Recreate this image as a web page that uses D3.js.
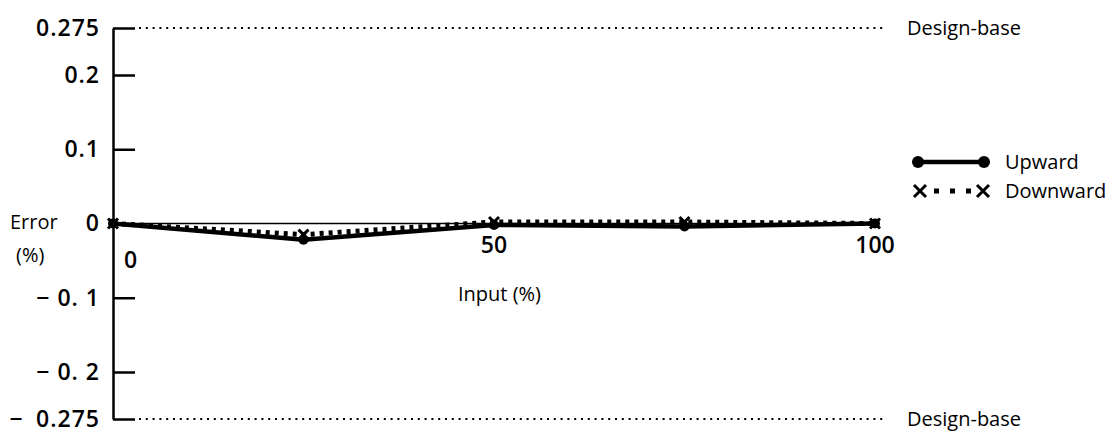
<!DOCTYPE html>
<html>
<head>
<meta charset="utf-8">
<script src="https://cdn.jsdelivr.net/npm/d3@7"></script>
<style>
  body { margin: 0; background: #fff; }
  svg { display: block; font-family: "Open Sans", "DejaVu Sans", sans-serif; }
</style>
</head>
<body>
<script>
// data
let inputPct = [0, 25, 50, 75, 100]
let upward = [0, -0.022, -0.002, -0.004, 0]
let downward = [0, -0.015, 0.002, 0.002, 0]
let yTicks = [0.275, 0.2, 0.1, 0, -0.1, -0.2, -0.275]
let yTickLabels = ['0.275', '0.2', '0.1', '0', '− 0. 1', '− 0. 2', '−\u20020.275']
let xTicks = [0, 50, 100]
let xTickLabels = ['0', '50', '100']
let designBase = [0.275, -0.275]
let seriesNames = ['Upward', 'Downward']

let W = 1117, H = 434

let x = d3.scaleLinear().domain([0, 100]).range([113, 875])
// axis is drawn compressed beyond ±0.2
let y = d3.scaleLinear()
  .domain([-0.275, -0.2, 0.2, 0.275])
  .range([419, 372, 75, 28])

let svg = d3.select('body').append('svg')
  .attr('width', W).attr('height', H)

// design-base dotted lines
svg.selectAll('.db').data(designBase).enter().append('line')
  .attr('x1', x(0) + 26).attr('x2', 883)
  .attr('y1', d => y(d)).attr('y2', d => y(d))
  .attr('stroke', '#000').attr('stroke-width', 2)
  .attr('stroke-dasharray', '2 4.8')
svg.selectAll('.dbt').data(designBase).enter().append('text')
  .attr('x', 907).attr('y', d => y(d)).attr('dy', '0.35em')
  .attr('font-size', 20).attr('font-weight', 500)
  .text('Design-base')

// zero reference line
svg.append('line')
  .attr('x1', x(0)).attr('x2', x(100))
  .attr('y1', y(0)).attr('y2', y(0))
  .attr('stroke', '#000').attr('stroke-width', 1.5)

// y axis
let yAxis = d3.axisLeft(y)
  .tickValues(yTicks)
  .tickSizeInner(-22).tickSizeOuter(0)
  .tickPadding(13)
  .tickFormat((d, i) => yTickLabels[i])
let ga = svg.append('g').attr('transform', 'translate(' + x(0) + ',0)').call(yAxis)
ga.select('.domain').attr('stroke-width', 2.5)
ga.selectAll('.tick line').attr('stroke-width', 2.5)
ga.selectAll('.tick text')
  .attr('font-size', 23).attr('font-weight', 600)
  .attr('letter-spacing', 1).attr('fill', '#000')
  .attr('font-family', '"Open Sans", sans-serif')

// x tick labels
svg.selectAll('.xl').data(xTicks).enter().append('text')
  .attr('x', d => d === 0 ? x(d) + 11 : x(d))
  .attr('y', d => d === 0 ? y(0) + 36 : y(0) + 21)
  .attr('dy', '0.35em')
  .attr('text-anchor', d => d === 0 ? 'start' : 'middle')
  .attr('font-size', 23).attr('font-weight', 600)
  .text((d, i) => xTickLabels[i])

// axis titles
svg.append('text').attr('x', 10).attr('y', y(0) - 2).attr('dy', '0.35em')
  .attr('font-size', 20).attr('font-weight', 500).text('Error')
svg.append('text').attr('x', 16).attr('y', y(0) + 31).attr('dy', '0.35em')
  .attr('font-size', 20).attr('font-weight', 500).text('(%)')
svg.append('text').attr('x', 458).attr('y', 294).attr('dy', '0.35em')
  .attr('font-size', 20).attr('font-weight', 500).text('Input (%)')

// lines
let line = d3.line().x((d, i) => x(inputPct[i])).y(d => y(d))

svg.append('path').datum(downward)
  .attr('d', line).attr('fill', 'none')
  .attr('stroke', '#000').attr('stroke-width', 5)
  .attr('stroke-dasharray', '4 5')
svg.append('path').datum(upward)
  .attr('d', line).attr('fill', 'none')
  .attr('stroke', '#000').attr('stroke-width', 4.5)

function cross (g, cx, cy, s) {
  g.append('path')
    .attr('d', 'M' + (cx - s) + ',' + (cy - s) + 'L' + (cx + s) + ',' + (cy + s) +
      'M' + (cx - s) + ',' + (cy + s) + 'L' + (cx + s) + ',' + (cy - s))
    .attr('stroke', '#000').attr('stroke-width', 3).attr('fill', 'none')
}

downward.forEach((d, i) => cross(svg, x(inputPct[i]), y(d), 5))
svg.selectAll('.up').data(upward).enter().append('circle')
  .attr('cx', (d, i) => x(inputPct[i])).attr('cy', d => y(d))
  .attr('r', 5).attr('fill', '#000')

// legend
let lg = svg.append('g')
let ly = [162, 191]
lg.append('line').attr('x1', 918).attr('x2', 984)
  .attr('y1', ly[0]).attr('y2', ly[0])
  .attr('stroke', '#000').attr('stroke-width', 4.5)
lg.selectAll('.lc').data([918, 984]).enter().append('circle')
  .attr('cx', d => d).attr('cy', ly[0]).attr('r', 6).attr('fill', '#000')
lg.append('line').attr('x1', 934).attr('x2', 972)
  .attr('y1', ly[1]).attr('y2', ly[1])
  .attr('stroke', '#000').attr('stroke-width', 5)
  .attr('stroke-dasharray', '5 11')
cross(lg, 920, ly[1], 6)
cross(lg, 983, ly[1], 6)
lg.selectAll('.lt').data(seriesNames).enter().append('text')
  .attr('x', 1005).attr('y', (d, i) => ly[i]).attr('dy', '0.35em')
  .attr('font-size', 20).attr('font-weight', 500)
  .text(d => d)
</script>
</body>
</html>
